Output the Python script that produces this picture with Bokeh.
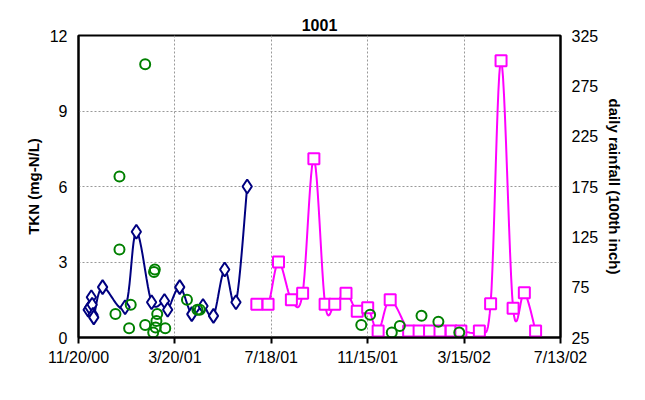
import numpy as np
from bokeh.plotting import figure
from bokeh.models import Range1d, LinearAxis, FixedTicker
from bokeh.embed import file_html
from bokeh.resources import INLINE

# days since 11/20/00
tkn_days = [12,14,16,17,18,19,30,58,72,91,107,111,126,141,155,168,182,196,210]
tkn_vals = [1.1,1.2,1.6,1.3,0.9,0.8,2.0,1.2,4.2,1.4,1.45,1.1,2.0,0.93,1.25,0.86,2.7,1.4,6.0]

grn_days = [83,51,51,46,65,63,83,93,94,95,96,97,98,108,135,148,151,352,363,390,400,427,448,474]
grn_vals = [10.86,6.4,3.5,0.93,1.3,0.37,0.5,0.2,2.6,2.7,0.4,0.66,0.93,0.37,1.5,1.1,1.1,0.5,0.9,0.2,0.46,0.86,0.63,0.2]

rain_days = [222,236,249,265,279,293,307,319,333,347,360,373,388,411,424,437,450,464,476,499,513,526,541,555,569]
rain_vals = [58,58,100,62.5,69,202.5,58,58,69,51,54.5,31.5,62.5,31.5,31.5,31.5,31.5,31.5,31.5,31.5,58.5,300,54,69.5,31.5]

x_ticks = [0,120,240,360,480,600]
x_labels = ["11/20/00","3/20/01","7/18/01","11/15/01","3/15/02","7/13/02"]

def smooth(xs, ys, n=12):
    xs = np.asarray(xs, float); ys = np.asarray(ys, float)
    P = np.column_stack([xs, ys])
    P = np.vstack([P[0], P, P[-1]])
    out = []
    for i in range(1, len(P) - 2):
        p0, p1, p2, p3 = P[i-1], P[i], P[i+1], P[i+2]
        for t in np.linspace(0, 1, n, endpoint=False):
            t2, t3 = t*t, t*t*t
            out.append(0.5*((2*p1) + (-p0+p2)*t + (2*p0-5*p1+4*p2-p3)*t2 + (-p0+3*p1-3*p2+p3)*t3))
    out.append(P[-2])
    out = np.array(out)
    return out[:, 0], out[:, 1]

FONT = "Liberation Sans"
p = figure(width=629, height=384, output_backend="svg", toolbar_location=None,
           x_range=Range1d(0, 600), y_range=Range1d(0, 12),
           min_border_left=78, min_border_right=69, min_border_top=35, min_border_bottom=47)
p.title.text = "1001"
p.title.align = "center"
p.title.text_font = FONT
p.title.text_font_size = "16px"
p.title.text_font_style = "bold"
p.title.text_color = "black"
p.extra_y_ranges = {"rain": Range1d(25, 325)}

p.outline_line_color = "black"
p.outline_line_width = 2
for g in (p.xgrid, p.ygrid):
    g.grid_line_color = "#999999"
    g.grid_line_dash = "2 2"
    g.grid_line_width = 1
p.xaxis.ticker = FixedTicker(ticks=x_ticks)
p.xaxis.major_label_overrides = {t: l for t, l in zip(x_ticks, x_labels)}
p.yaxis.ticker = FixedTicker(ticks=[0,3,6,9,12])
p.yaxis.axis_label = "TKN (mg-N/L)"

ra = LinearAxis(y_range_name="rain", ticker=FixedTicker(ticks=[25,75,125,175,225,275,325]),
                axis_label="daily rainfall (100th inch)")
p.add_layout(ra, "right")

for ax in p.xaxis + p.yaxis + [ra]:
    ax.axis_line_color = "black"
    ax.axis_line_width = 2
    ax.major_tick_line_width = 2
    ax.major_tick_out = 6
    ax.major_tick_in = 0
    ax.minor_tick_line_color = None
    ax.major_label_text_font = FONT
    ax.major_label_text_font_size = "16px"
    ax.major_label_text_color = "black"
    ax.axis_label_text_font = FONT
    ax.axis_label_text_font_size = "15px"
    ax.axis_label_text_font_style = "bold"
    ax.axis_label_text_color = "black"
p.yaxis.major_tick_line_color = None
ra.major_tick_in = 6
ra.major_tick_out = 6

sx, sy = smooth(rain_days, rain_vals)
p.line(sx, sy, line_color="magenta", line_width=2, y_range_name="rain")
p.scatter(rain_days, rain_vals, marker="square", size=11, fill_color="white",
          line_color="magenta", line_width=2, y_range_name="rain")

sx, sy = smooth(tkn_days, tkn_vals)
p.line(sx, sy, line_color="#000080", line_width=2)
p.scatter(tkn_days, tkn_vals, marker="diamond", size=14, fill_color="white",
          line_color="#000080", line_width=2)

p.scatter(grn_days, grn_vals, marker="circle", size=10, fill_color=None,
          line_color="green", line_width=2)

open("out.html", "w").write(file_html(p, INLINE))
